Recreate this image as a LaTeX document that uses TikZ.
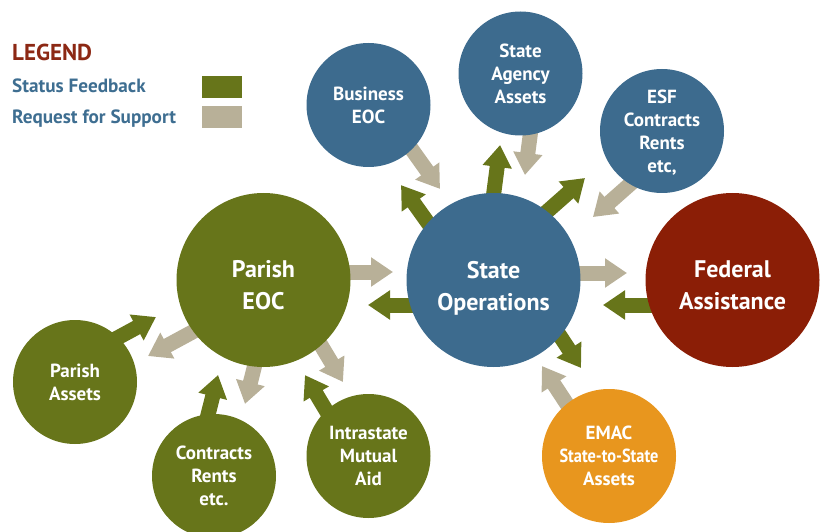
\documentclass[tikz,border=0pt]{standalone}
\usepackage{fontspec}
\newfontfamily\lab{PT Sans}
\newfontfamily\labn[FakeStretch=0.86]{PT Sans}
\usetikzlibrary{arrows.meta,calc,backgrounds}
\definecolor{cgreen}{RGB}{103,117,26}
\definecolor{ctan}{RGB}{184,176,152}
\definecolor{cblue}{RGB}{61,107,142}
\definecolor{cred}{RGB}{139,30,6}
\definecolor{corange}{RGB}{232,150,30}
\definecolor{legred}{RGB}{140,40,20}
\definecolor{legblue}{RGB}{62,110,145}
\newcommand\barrow[6]{\draw[#1] ($(#2)!#4pt!(#3)!#6pt!-90:(#2)$) -- ($(#2)!#5pt!(#3)!#6pt!-90:(#2)$);}
\newcommand\lift[1]{\rule{0pt}{#1pt}}
\begin{document}
\begin{tikzpicture}[x=1pt,y=-1pt,
  big/.style={circle,inner sep=0pt,outer sep=0pt,minimum size=174pt,text=white,
    font=\lab\bfseries\fontsize{24}{32}\selectfont,align=center},
  small/.style={circle,inner sep=0pt,outer sep=0pt,minimum size=124pt,text=white,
    font=\lab\bfseries\fontsize{19}{23}\selectfont,align=center},
  fb/.style={draw=cgreen,line width=15pt,-{Triangle[width=28pt,length=22pt]}},
  req/.style={draw=ctan,line width=15pt,-{Triangle[width=28pt,length=22pt]}},
  legtext/.style={anchor=base west,inner sep=0pt,text=legblue,font=\lab\bfseries\fontsize{19.2}{22}\selectfont},
  swatch/.style={anchor=north west,inner sep=0pt,minimum width=40pt,minimum height=22pt}]
\useasboundingbox (0,0) rectangle (825,532);
% legend
\node[anchor=base west,inner sep=0pt,text=legred,font=\lab\bfseries\fontsize{23}{26}\selectfont] (leg) at (12,61) {LEGEND};
\node[legtext] (l1) at (12,93) {Status Feedback};
\node[legtext] (l2) at (12,124) {Request for Support};
\node[swatch,fill=cgreen] (s1) at (202,76) {};
\node[swatch,fill=ctan] (s2) at (202,106) {};
% circles
\node[big,fill=cgreen] (pe) at (263.5,280) {\lift{26.5}Parish\\EOC};
\node[big,fill=cblue] (so) at (493.5,280) {\lift{33}State\\Operations};
\node[big,fill=cred] (fa) at (732.5,280) {\lift{26.5}Federal\\Assistance};
\node[small,fill=cblue] (be) at (368.5,105) {Business\\EOC};
\node[small,fill=cblue] (sa) at (520.5,73.5) {State\\Agency\\Assets};
\node[small,fill=cblue] (esf) at (662,131) {\lift{17}ESF\\Contracts\\Rents\\etc,};
\node[small,fill=corange,minimum size=134pt] (em) at (609,456) {EMAC\\{\labn State-to-State}\\Assets};
\node[small,fill=cgreen] (pa) at (75,382) {Parish\\Assets};
\node[small,fill=cgreen] (cr) at (214,476) {Contracts\\Rents\\etc.};
\node[small,fill=cgreen] (im) at (368.5,456) {Intrastate\\Mutual\\Aid};
% arrows
\begin{scope}[on background layer]
\barrow{req}{pe}{so}{70}{129.5}{8}
\barrow{fb}{pe}{so}{160}{104.5}{-25}
\barrow{req}{so}{fa}{70}{133.5}{7}
\barrow{fb}{so}{fa}{169}{109.5}{-25}
\barrow{fb}{so}{em}{70}{121.6}{24.9}
\barrow{req}{so}{em}{158}{98.5}{-6.7}
\barrow{req}{so}{be}{165}{105.2}{-9.4}
\barrow{fb}{so}{be}{70}{131}{20.1}
\barrow{fb}{so}{sa}{70}{134.7}{11}
\barrow{req}{so}{sa}{158}{108.2}{-17.6}
\barrow{fb}{so}{esf}{70}{136.1}{15.8}
\barrow{req}{so}{esf}{175}{116.2}{-18.7}
\barrow{req}{pe}{pa}{70}{137.8}{11.9}
\barrow{fb}{pe}{pa}{164}{112.2}{-18.6}
\barrow{req}{pe}{cr}{70}{124.7}{12.4}
\barrow{fb}{pe}{cr}{152}{103.2}{-20.8}
\barrow{req}{pe}{im}{70}{128.3}{16}
\barrow{fb}{pe}{im}{155}{102.9}{-13.1}
\end{scope}
\end{tikzpicture}
\end{document}
